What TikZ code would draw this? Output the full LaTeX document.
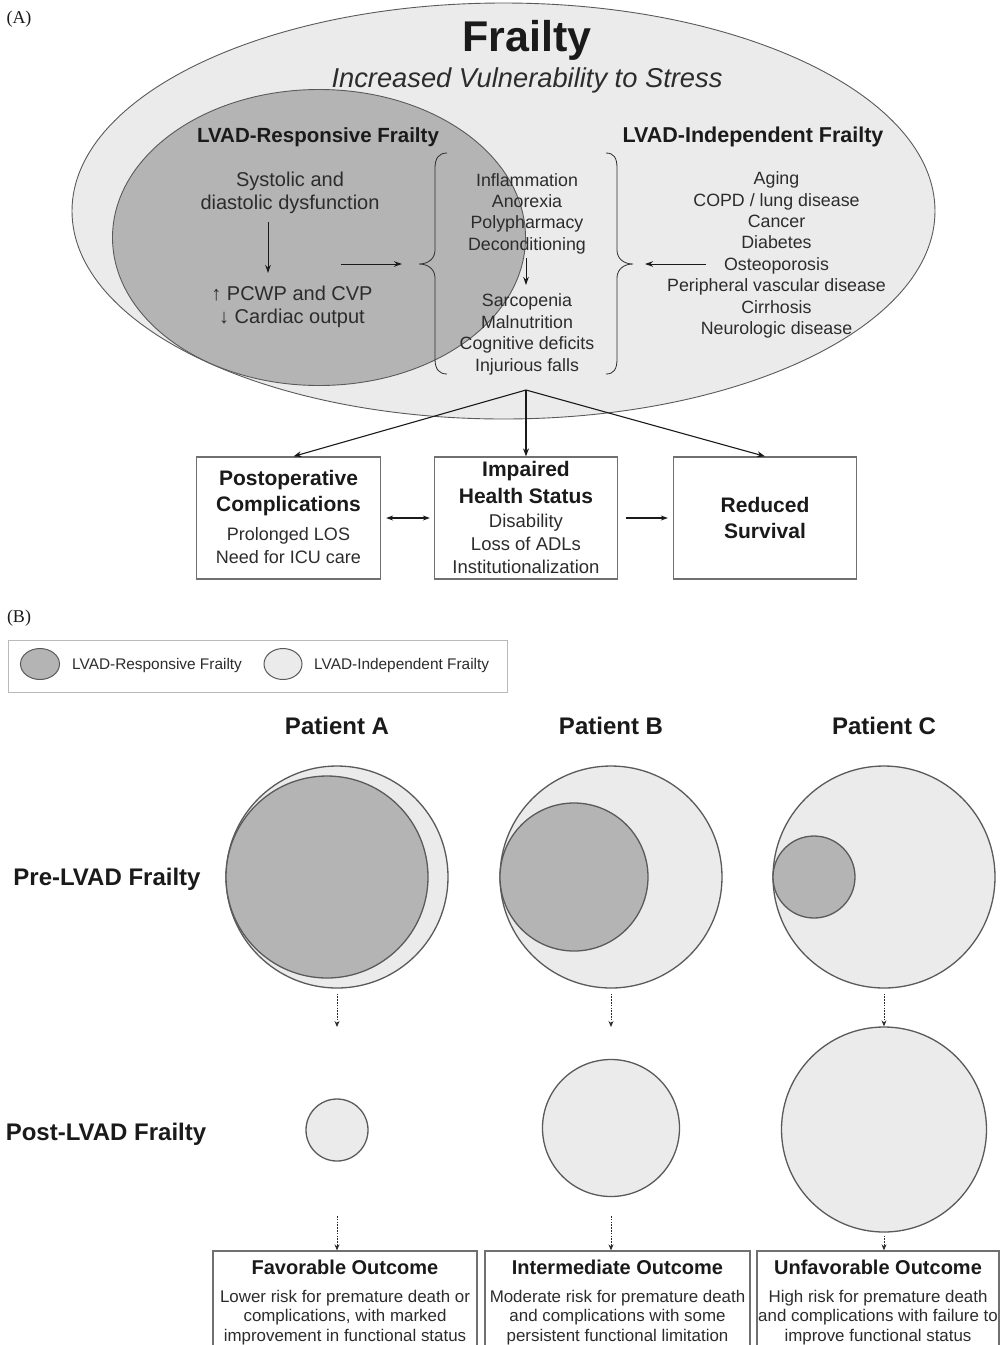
\documentclass[tikz,border=0pt]{standalone}
\usepackage{fontspec}
\setmainfont{Liberation Sans}
\newfontfamily\serifA{Liberation Serif}
\usetikzlibrary{arrows.meta,shapes.geometric}
\definecolor{lightfill}{HTML}{EBEBEB}
\definecolor{darkfill}{HTML}{B4B4B4}
\definecolor{edgec}{HTML}{5A5A5A}
\definecolor{boxc}{HTML}{707070}
\definecolor{txtc}{HTML}{2C2C2C}
\definecolor{boldc}{HTML}{1A1A1A}
\newcommand\fsz[2]{\fontsize{#1pt}{#2pt}\selectfont}
\begin{document}
\begin{tikzpicture}[x=1pt,y=-1pt,
  lbl/.style={inner sep=0pt, font=\serifA\fsz{18}{21}, text=boldc},
  t/.style={inner sep=0pt, align=center, text=txtc},
  hb/.style={inner sep=0pt, align=center, text=boldc},
  boxA/.style={draw=boxc, line width=1.3pt, fill=white, inner sep=0pt},
  ell/.style={ellipse, inner sep=0pt, draw=edgec},
  circ/.style={circle, inner sep=0pt, draw=edgec, line width=1.3pt},
  arr/.style={draw=boldc, line width=1.1pt, -{Stealth[length=8pt,width=6pt]}},
  thinarr/.style={draw=boldc, line width=1pt, -{Stealth[length=8pt,width=5.5pt]}},
  dotarr/.style={draw=txtc, line width=0.9pt, dash pattern=on 1.6pt off 1.2pt, -{Stealth[length=6pt,width=5pt]}},
  brace/.style={draw=txtc, line width=0.8pt}
]
\useasboundingbox (0,0) rectangle (1002,1345);
\fill[white] (0,0) rectangle (1002,1345);

% ---------------- Panel A ----------------
\node[lbl] (labA) at (19,19) {(A)};
\node[ell, line width=0.9pt, fill=lightfill, minimum width=863pt, minimum height=416pt] (frail) at (503.5,211) {};
\node[ell, line width=0.9pt, fill=darkfill, minimum width=413pt, minimum height=296pt] (resp) at (319,237.5) {};

\node[hb, font=\bfseries\fsz{43}{48}] (title) at (527,40) {Frailty};
\node[t, font=\itshape\fsz{27.3}{31}] (subt) at (527,80) {Increased Vulnerability to Stress};
\node[hb, font=\bfseries\fsz{20.5}{24}] (hresp) at (318,137) {LVAD-Responsive Frailty};
\node[hb, font=\bfseries\fsz{21.5}{24}] (hind) at (753,137) {LVAD-Independent Frailty};

\node[t, font=\fsz{20}{23}] (sys) at (290,193) {Systolic and\\diastolic dysfunction};
\node[t, font=\fsz{20}{23}] (pcwp) at (292,307) {↑ PCWP and CVP\\↓ Cardiac output};
\coordinate (a1s) at (268,222);
\coordinate (a1e) at (268,273);
\draw[thinarr] (a1s) -- (a1e);
\coordinate (a2s) at (341,264);
\coordinate (a2e) at (402,264);
\draw[thinarr] (a2s) -- (a2e);

% left brace
\draw[brace] (447,153) .. controls (439,153) and (435,158) .. (435,168) -- (435,250)
  .. controls (435,258) and (429,264) .. (419,264)
  .. controls (429,264) and (435,270) .. (435,278) -- (435,359)
  .. controls (435,369) and (439,374) .. (447,374);
% right brace
\draw[brace] (606,153) .. controls (614,153) and (617,158) .. (617,168) -- (617,250)
  .. controls (617,258) and (623,264) .. (633,264)
  .. controls (623,264) and (617,270) .. (617,278) -- (617,359)
  .. controls (617,369) and (614,374) .. (606,374);

\node[t, font=\fsz{17.8}{21.3}] (mid1) at (527,213.5) {Inflammation\\Anorexia\\Polypharmacy\\Deconditioning};
\coordinate (a3s) at (526,258);
\coordinate (a3e) at (526,285);
\draw[thinarr] (a3s) -- (a3e);
\node[t, font=\fsz{17.8}{21.6}] (mid2) at (527,334.3) {Sarcopenia\\Malnutrition\\Cognitive deficits\\Injurious falls};

\node[t, font=\fsz{17.8}{21.4}] (indep) at (776.5,255) {Aging\\COPD / lung disease\\Cancer\\Diabetes\\Osteoporosis\\Peripheral vascular disease\\Cirrhosis\\Neurologic disease};
\coordinate (a4s) at (706,264);
\coordinate (a4e) at (645,264);
\draw[thinarr] (a4s) -- (a4e);

% outcome boxes
\node[boxA, minimum width=184pt, minimum height=122pt] (b1) at (288.5,518) {};
\node[boxA, minimum width=183pt, minimum height=122pt] (b2) at (526,518) {};
\node[boxA, minimum width=183pt, minimum height=122pt] (b3) at (765,518) {};
\coordinate (fan) at (526,390);
\draw[arr] (fan) -- ([xshift=5pt]b1.north);
\draw[arr] (fan) -- (b2.north);
\draw[arr] (fan) -- (b3.north);
\draw[arr, {Stealth[length=7pt,width=5pt]}-{Stealth[length=7pt,width=5pt]}, shorten <=5pt, shorten >=4pt] (b1.east) -- (b2.west);
\draw[arr, -{Stealth[length=7pt,width=5pt]}, shorten <=8pt, shorten >=5pt] (b2.east) -- (b3.west);

\node[hb, font=\bfseries\fsz{21}{26.5}] (b1h) at (288.5,493) {Postoperative\\Complications};
\node[t, font=\fsz{18}{23}] (b1t) at (288.5,545.5) {Prolonged LOS\\Need for ICU care};
\node[hb, font=\bfseries\fsz{21}{27}] (b2h) at (526,482.5) {Impaired\\Health Status};
\node[t, font=\fsz{18.5}{23}] (b2t) at (526,543.7) {Disability\\Loss of ADLs\\Institutionalization};
\node[hb, font=\bfseries\fsz{21}{26}] (b3h) at (765,518) {Reduced\\Survival};

% ---------------- Panel B ----------------
\node[lbl] (labB) at (19,618) {(B)};
\node[draw=gray!55, line width=0.8pt, inner sep=0pt, minimum width=499pt, minimum height=52pt] (legend) at (257.5,666) {};
\node[ell, line width=1pt, fill=darkfill, minimum width=39pt, minimum height=31pt] (lg1) at (40,664) {};
\node[t, anchor=west, font=\fsz{15.4}{18}] (lg1t) at (72,665.5) {LVAD-Responsive Frailty};
\node[ell, line width=1pt, fill=lightfill, minimum width=38pt, minimum height=31pt] (lg2) at (283,664) {};
\node[t, anchor=west, font=\fsz{15.4}{18}] (lg2t) at (314,665.5) {LVAD-Independent Frailty};

\node[hb, font=\bfseries\fsz{24}{28}] (pa) at (337,726) {Patient A};
\node[hb, font=\bfseries\fsz{24}{28}] (pb) at (611,726) {Patient B};
\node[hb, font=\bfseries\fsz{24}{28}] (pc) at (884,726) {Patient C};
\node[hb, font=\bfseries\fsz{24}{28}] (pre) at (107,879.5) {Pre-LVAD Frailty};
\node[hb, font=\bfseries\fsz{24}{28}] (post) at (106,1134.5) {Post-LVAD Frailty};

\node[circ, fill=lightfill, minimum size=222pt] (preA) at (337,877) {};
\node[circ, fill=darkfill, minimum size=202pt] (preAi) at (327,877) {};
\node[circ, fill=lightfill, minimum size=222pt] (preB) at (611,877) {};
\node[circ, fill=darkfill, minimum size=148pt] (preBi) at (574,877) {};
\node[circ, fill=lightfill, minimum size=222pt] (preC) at (884,877) {};
\node[circ, fill=darkfill, minimum size=82pt] (preCi) at (814,877) {};

\node[circ, fill=lightfill, minimum size=62pt] (postA) at (337,1130) {};
\node[circ, fill=lightfill, minimum size=137pt] (postB) at (611,1128) {};
\node[circ, fill=lightfill, minimum size=205pt] (postC) at (884,1129.5) {};

\coordinate (dA) at (337,1027);
\coordinate (dB) at (611,1027);
\draw[dotarr] ([yshift=-5pt]preA.south) -- (dA);
\draw[dotarr] ([yshift=-5pt]preB.south) -- (dB);
\draw[dotarr] ([yshift=-5pt]preC.south) -- (postC.north);

% outcome boxes B
\node[boxA, minimum width=264pt, minimum height=120pt] (o1) at (345,1311) {};
\node[boxA, minimum width=265pt, minimum height=120pt] (o2) at (617.5,1311) {};
\node[boxA, minimum width=242pt, minimum height=120pt] (o3) at (878,1311) {};
\coordinate (eA) at (337,1216);
\coordinate (eB) at (611,1216);
\draw[dotarr] (eA) -- (eA |- o1.north);
\draw[dotarr] (eB) -- (eB |- o2.north);
\draw[dotarr] ([yshift=-3pt]postC.south) -- (postC.south |- o3.north);

\node[hb, font=\bfseries\fsz{20}{24}] (o1h) at (345,1267) {Favorable Outcome};
\node[t, font=\fsz{16.9}{19.6}] (o1t) at (345,1317.4) {Lower risk for premature death or\\complications, with marked\\improvement in functional status};
\node[hb, font=\bfseries\fsz{20}{24}] (o2h) at (617.5,1267) {Intermediate Outcome};
\node[t, font=\fsz{16.9}{19.6}] (o2t) at (617.5,1317.4) {Moderate risk for premature death\\and complications with some\\persistent functional limitation};
\node[hb, font=\bfseries\fsz{20}{24}] (o3h) at (878,1267) {Unfavorable Outcome};
\node[t, font=\fsz{16.9}{19.6}] (o3t) at (878,1317.4) {High risk for premature death\\and complications with failure to\\improve functional status};
\end{tikzpicture}
\end{document}
